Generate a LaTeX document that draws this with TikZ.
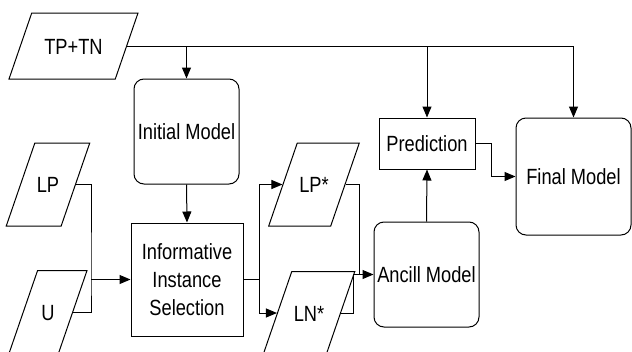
\documentclass[tikz,border=0pt]{standalone}
\usepackage{fontspec}
\setmainfont{Liberation Sans}[FakeStretch=0.83]
\usetikzlibrary{arrows.meta,shapes.geometric,positioning}

\begin{document}
\begin{tikzpicture}[x=1pt,y=1pt,
  every node/.style={font=\fontsize{22}{28}\selectfont, inner sep=2pt},
  datain/.style={draw, trapezium, trapezium left angle=71, trapezium right angle=109, trapezium stretches body,
    text height=16pt, text depth=0pt, inner ysep=33.5pt, line width=1pt},
  model/.style={draw, rounded corners=10pt, line width=1pt, align=center},
  stepbox/.style={draw, line width=1pt, align=center},
  arr/.style={line width=1pt, -{Triangle[length=11pt,width=9pt]}}]
  \useasboundingbox (0,0) rectangle (632,-351);
  % Inputs
  \node[datain, inner ysep=25pt, minimum width=129] (tptn) at (73.5,-46) {TP+TN};
  \node[datain, minimum width=78] (lp) at (48,-184.5) {LP};
  \node[datain, minimum width=78] (u) at (48,-312) {U};
  % First stage
  \node[model, minimum width=105, minimum height=105] (init) at (186.5,-131.5) {Initial Model};
  \node[stepbox, minimum width=112, minimum height=113] (info) at (187,-279.5) {Informative\\Instance\\Selection};
  \node[datain, minimum width=86] (lps) at (314,-184.5) {LP*};
  \node[datain, minimum width=84] (lns) at (309,-313) {LN*};
  % Second stage
  \node[model, minimum width=105, minimum height=105] (anc) at (426.5,-274.5) {Ancill Model};
  \node[stepbox, minimum width=96, minimum height=51] (pred) at (427,-143.5) {Prediction};
  \node[model, minimum width=115, minimum height=117] (final) at (573.5,-176.5) {Final Model};
  % Junctions
  \coordinate (jl) at (91,-279.5);
  \coordinate (jr) at (259,-279.5);
  \coordinate (ka) at (359,-274.5);
  \coordinate (kb) at (353,-274.5);
  \coordinate (kp) at (491,-143.5);
  % Connectors
  \draw[arr] (tptn.east) -| (final.north);
  \draw[arr] (tptn.east -| init.north) -- (init.north);
  \draw[arr] (tptn.east -| pred.north) -- (pred.north);
  \draw[line width=1pt] (lp.east) -| (jl) |- (u.east);
  \draw[arr] (jl) -- (info.west);
  \draw[arr] (init.south) -- (info.north);
  \draw[arr] (info.east) -- (jr) |- (lps.west);
  \draw[arr] (jr) |- (lns.west);
  \draw[line width=1pt] (lps.east) -| (ka);
  \draw[arr] (lns.east) -| (kb) -- (anc.west);
  \draw[arr] (anc.north) -- (pred.south);
  \draw[arr] (pred.east) -- (kp) |- (final.west);
\end{tikzpicture}
\end{document}
